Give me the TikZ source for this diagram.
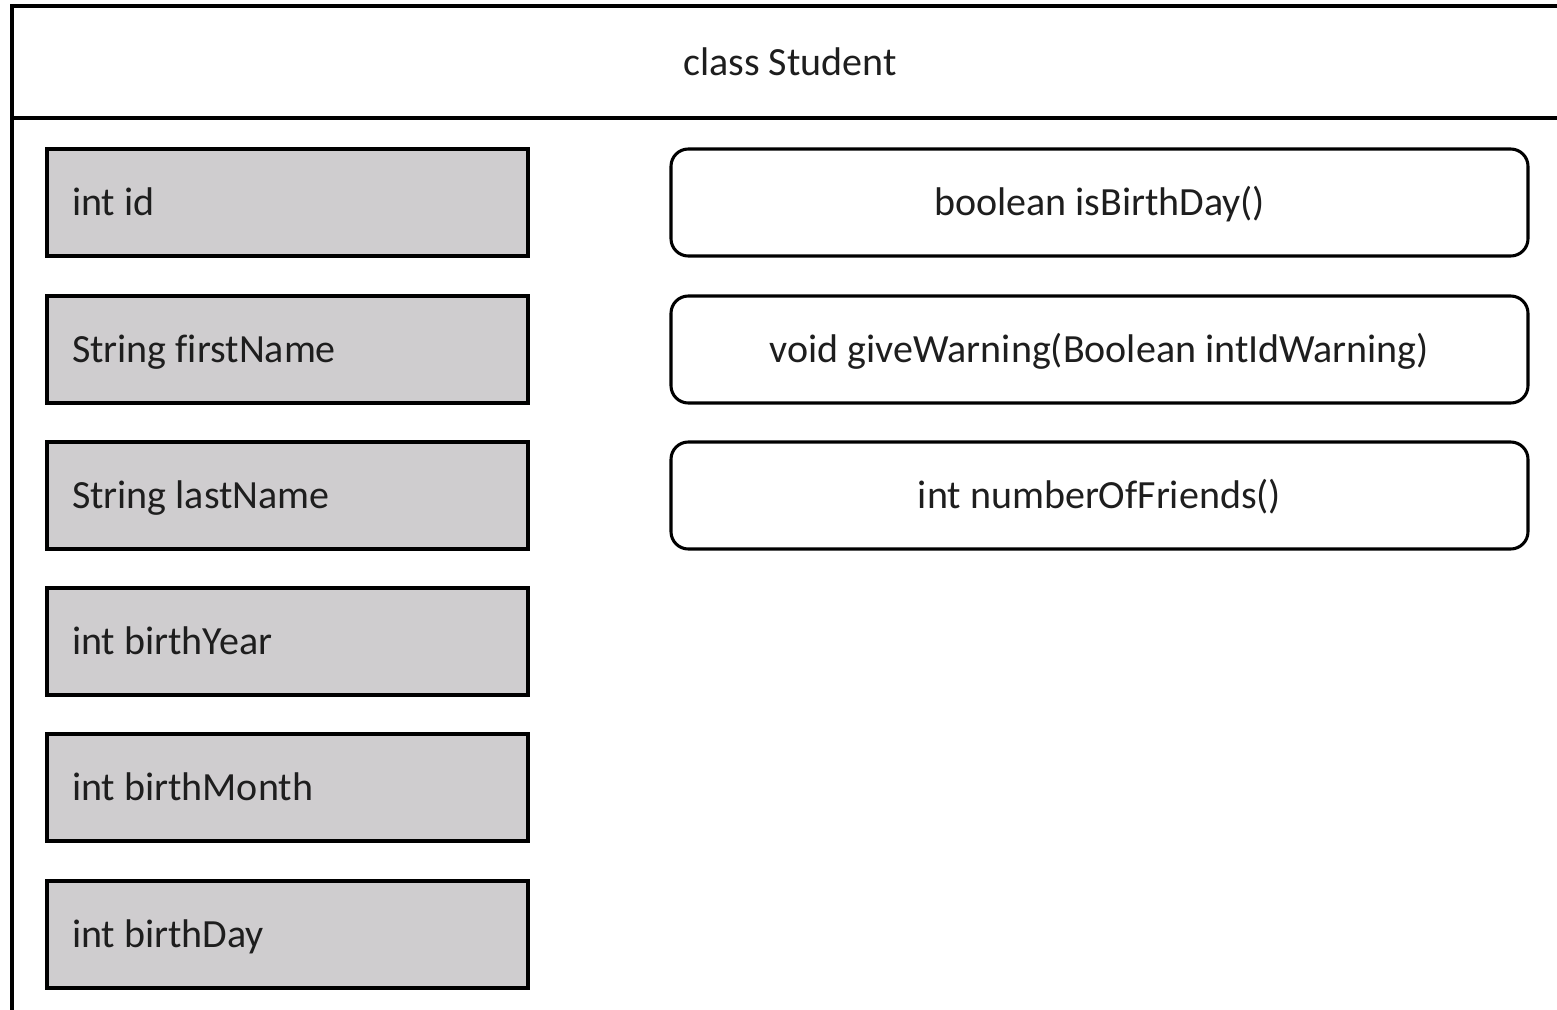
\documentclass[tikz,border=0pt]{standalone}
\usepackage{fontspec}
\setmainfont[Ligatures=NoCommon]{Carlito}
\definecolor{fieldgray}{HTML}{CFCDCF}
\definecolor{txt}{HTML}{1E1E1E}
\newcommand\fldtext[1]{\spaceskip=0pt\xspaceskip=0pt\hbox{#1}}
\begin{document}
\begin{tikzpicture}[x=0.75pt,y=-0.75pt,
  lbl/.style={font=\fontsize{30}{36}\selectfont,text=txt,text height=22pt,text depth=2.5pt},
  field/.style={lbl,draw=black,fill=fieldgray,line width=2.3pt,minimum height=80.25pt,
    text width=323.25pt,inner xsep=18.75pt,inner ysep=0pt,align=left},
  method/.style={lbl,draw=black,fill=white,line width=2.3pt,rounded corners=13pt,minimum height=80.25pt,
    minimum width=642.75pt,inner sep=0pt,align=center},
  frame/.style={line width=2.3pt,draw=black}]
\useasboundingbox (0,0) rectangle (1557,1010);
\draw[frame] (1557,6) -- (12,6) -- (12,1012);
\draw[frame] (12,118) -- (1557,118);
\node[lbl] (title) at (790,62) {class Student};
\node[field] (f1) at (287.5,202.5) {\fldtext{int id}};
\node[field] (f2) at (287.5,349.5) {\fldtext{String firstName}};
\node[field] (f3) at (287.5,495.5) {\fldtext{String lastName}};
\node[field] (f4) at (287.5,641.5) {\fldtext{int birthYear}};
\node[field] (f5) at (287.5,787.5) {\fldtext{int birthMonth}};
\node[field] (f6) at (287.5,934.5) {\fldtext{int birthDay}};
\node[method] (m1) at (1099.5,202.5) {boolean isBirthDay()};
\node[method] (m2) at (1099.5,349.5) {void giveWarning(Boolean intIdWarning)};
\node[method] (m3) at (1099.5,495.5) {int numberOfFriends()};
\end{tikzpicture}
\end{document}
